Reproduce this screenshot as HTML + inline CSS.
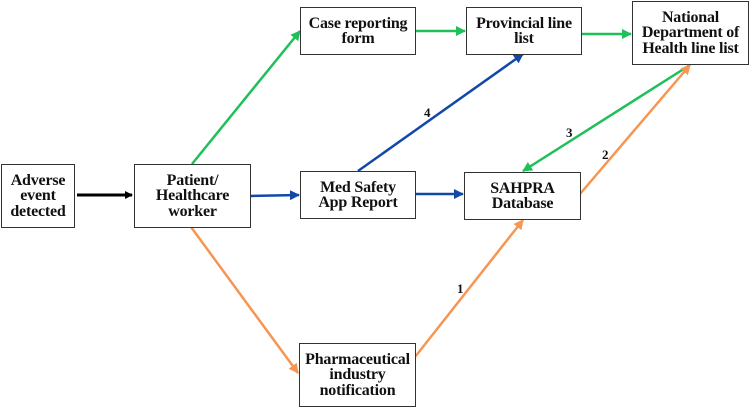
<!DOCTYPE html>
<html><head><style>
body{margin:0;width:749px;height:407px;background:#fff;position:relative;overflow:hidden;font-family:"Liberation Serif",serif;font-weight:bold;}
.b{position:absolute;border:1.5px solid #333;box-sizing:border-box;display:flex;align-items:center;justify-content:center;text-align:center;font-size:16px;line-height:15.5px;color:#111;background:#fff;letter-spacing:-0.2px;}
svg{position:absolute;left:0;top:0}
.n{font-family:"Liberation Serif",serif;font-weight:bold;font-size:13px;fill:#111}
</style></head><body>
<svg width="749" height="407">
<defs>
<marker id="k" markerWidth="8" markerHeight="8" refX="7" refY="4" orient="auto" markerUnits="userSpaceOnUse"><path d="M0,0L8,4L0,8Z" fill="#000"/></marker>
<marker id="g" markerWidth="10" markerHeight="10" refX="9" refY="5" orient="auto" markerUnits="userSpaceOnUse"><path d="M0,0L10,5L0,10Z" fill="#1fbf5a"/></marker>
<marker id="u" markerWidth="10" markerHeight="10" refX="9" refY="5" orient="auto" markerUnits="userSpaceOnUse"><path d="M0,0L10,5L0,10Z" fill="#1248a8"/></marker>
<marker id="o" markerWidth="10" markerHeight="10" refX="9" refY="5" orient="auto" markerUnits="userSpaceOnUse"><path d="M0,0L10,5L0,10Z" fill="#f79552"/></marker>
</defs>
<g stroke-width="2.5" fill="none">
<line x1="77" y1="195" x2="132" y2="195" stroke="#000" stroke-width="3" marker-end="url(#k)"/>
<line x1="192" y1="164" x2="300" y2="31" stroke="#1fbf5a" marker-end="url(#g)"/>
<line x1="250" y1="196" x2="299" y2="195" stroke="#1248a8" marker-end="url(#u)"/>
<line x1="191" y1="227" x2="298" y2="373" stroke="#f79552" marker-end="url(#o)"/>
<line x1="415" y1="31" x2="465" y2="31" stroke="#1fbf5a" marker-end="url(#g)"/>
<line x1="581" y1="34" x2="631" y2="34" stroke="#1fbf5a" marker-end="url(#g)"/>
<line x1="358" y1="171" x2="523" y2="54" stroke="#1248a8" marker-end="url(#u)"/>
<line x1="415" y1="194" x2="463" y2="194" stroke="#1248a8" marker-end="url(#u)"/>
<line x1="690" y1="65" x2="523" y2="171" stroke="#1fbf5a" marker-end="url(#g)"/>
<line x1="580" y1="194" x2="690" y2="65" stroke="#f79552" marker-end="url(#o)"/>
<line x1="415" y1="357" x2="523" y2="220" stroke="#f79552" marker-end="url(#o)"/>
</g>
<text class="n" x="424" y="117">4</text>
<text class="n" x="566" y="137">3</text>
<text class="n" x="602" y="159">2</text>
<text class="n" x="457" y="293">1</text>
</svg>
<div class="b" style="left:1px;top:164px;width:74px;height:64px">Adverse<br>event<br>detected</div>
<div class="b" style="left:134px;top:164px;width:117px;height:64px">Patient/<br>Healthcare<br>worker</div>
<div class="b" style="left:300px;top:7px;width:116px;height:48px">Case reporting<br>form</div>
<div class="b" style="left:300px;top:171px;width:116px;height:48px">Med Safety<br>App Report</div>
<div class="b" style="left:466px;top:7px;width:116px;height:48px">Provincial line<br>list</div>
<div class="b" style="left:464px;top:172px;width:117px;height:48px">SAHPRA<br>Database</div>
<div class="b" style="left:632px;top:1px;width:117px;height:64px">National<br>Department of<br>Health line list</div>
<div class="b" style="left:299px;top:343px;width:117px;height:64px">Pharmaceutical<br>industry<br>notification</div>
</body></html>
